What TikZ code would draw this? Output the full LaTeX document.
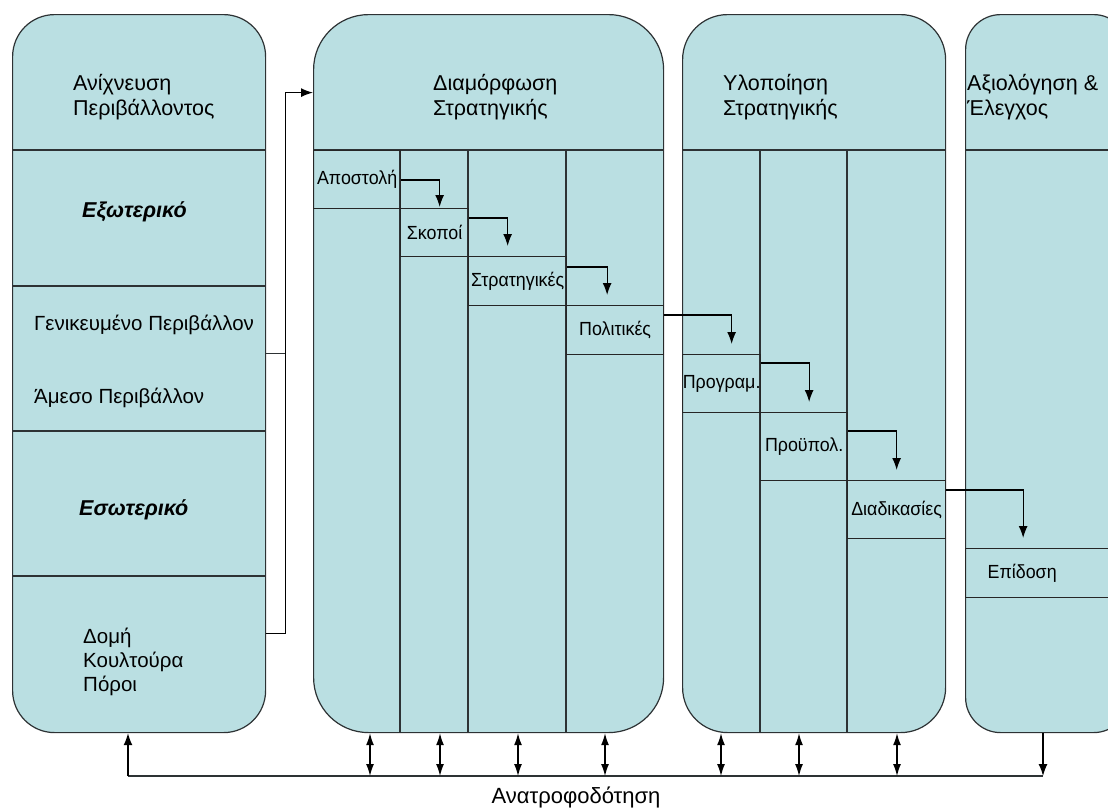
\documentclass[tikz,border=0pt]{standalone}
\usepackage{fontspec}
\setmainfont{Liberation Sans}
\newfontfamily\cellfont[FakeStretch=0.94]{Liberation Sans}
\usepackage{xcolor}
\usetikzlibrary{positioning, arrows.meta}
\definecolor{panelfill}{RGB}{186,223,226}
\definecolor{edgegray}{RGB}{45,50,52}

\begin{document}
\begin{tikzpicture}[
    x=1pt, y=-1pt,
    every node/.style={font=\cellfont\fontsize{19}{21}\selectfont},
    panel/.style={draw=edgegray, fill=panelfill, line width=1.2pt, inner sep=0pt, anchor=north west, minimum height=718pt},
    cell/.style={draw=black!85, line width=1.3pt, inner sep=0pt, anchor=north west},
    head/.style={align=left, anchor=west, inner sep=0pt, font=\fontsize{21.5}{25}\selectfont},
    side/.style={align=left, anchor=west, inner sep=0pt, font=\fontsize{20.5}{24}\selectfont},
    part/.style={anchor=west, inner sep=0pt, font=\fontsize{21.5}{24}\selectfont\bfseries\itshape},
    rule/.style={draw=edgegray, line width=1.3pt},
    flow/.style={-{Latex[length=12pt,width=9pt]}, draw=black, line width=1.3pt, shorten >=10pt},
    both/.style={{Latex[length=12pt,width=8pt]}-{Latex[length=12pt,width=8pt]}, draw=black, line width=1.3pt}
]
\useasboundingbox (0,0) rectangle (1108,809);
\clip (0,0) rectangle (1108,809);

% the four phases
\node[panel, rounded corners=42pt, minimum width=253pt] (scan) at (12,14) {};
\node[panel, rounded corners=55pt, minimum width=350pt] (form) at (313,14) {};
\node[panel, rounded corners=45pt, minimum width=263pt] (impl) at (682,14) {};
\node[panel, rounded corners=35pt, minimum width=163pt] (eval) at (965,14) {};

% dividers
\foreach \y in {150,286,431,576}
    \draw[rule] (scan.west |- 0,\y) -- (scan.east |- 0,\y);
\draw[rule] (form.west |- 0,150) -- (form.east |- 0,150);
\draw[rule] (impl.west |- 0,150) -- (impl.east |- 0,150);
\draw[rule] (eval.west |- 0,150) -- (eval.east |- 0,150);
\foreach \x in {400,468,566}
    \draw[rule] (\x,150) -- (\x,0 |- form.south);
\foreach \x in {760,847}
    \draw[rule] (\x,150) -- (\x,0 |- impl.south);

% titles
\node[head] (scantitle) at (73,97) {Ανίχνευση\\Περιβάλλοντος};
\node[head] (formtitle) at (433,97) {Διαμόρφωση\\Στρατηγικής};
\node[head] (impltitle) at (723,97) {Υλοποίηση\\Στρατηγικής};
\node[head] (evaltitle) at (967,97) {Αξιολόγηση \&\\Έλεγχος};

% environment scanning
\node[part] (ext) at (82,212) {Εξωτερικό};
\node[side] (general) at (34,325) {Γενικευμένο Περιβάλλον};
\node[side] (direct) at (34,398) {Άμεσο Περιβάλλον};
\node[part] (int) at (79,510) {Εσωτερικό};
\node[side] (inside) at (83,662) {Δομή\\Κουλτούρα\\Πόροι};

% steps
\node[cell, minimum width=87pt, minimum height=58pt] (apost) at (313,150) {Αποστολή};
\node[cell, minimum width=68pt, minimum height=48pt] (skopoi) at (400,208) {Σκοποί};
\node[cell, minimum width=98pt, minimum height=49pt] (strat) at (468,256) {Στρατηγικές};
\node[cell, minimum width=97pt, minimum height=49pt] (polit) at (566,305) {Πολιτικές};
\node[cell, minimum width=78pt, minimum height=58pt] (progr) at (682,354) {Προγραμ.};
\node[cell, minimum width=87pt, minimum height=68pt] (proyp) at (760,412) {Προϋπολ.};
\node[cell, minimum width=98pt, minimum height=58pt] (diad) at (847,480) {Διαδικασίες};
\node[cell, minimum height=49pt, inner xsep=22pt, text width=119pt, align=left] (epid) at (965,548) {Επίδοση};

\draw[flow, shorten >=1pt] ([yshift=-30pt]apost.north east) -| ([xshift=5pt]skopoi.north);
\draw[flow] ([yshift=-10pt]skopoi.north east) -| ([xshift=-10pt]strat.north);
\draw[flow] ([yshift=-11pt]strat.north east) -| ([xshift=-8pt]polit.north);
\draw[flow] ([yshift=-10pt]polit.north east) -| ([xshift=10pt]progr.north);
\draw[flow] ([yshift=-9pt]progr.north east) -| ([xshift=5pt]proyp.north);
\draw[flow] ([yshift=-19pt]proyp.north east) -| (diad.north);
\draw[flow] ([yshift=-10pt]diad.north east) -| ([xshift=-24pt]epid.north);

% scanning feeds formulation
\draw[rule] ([yshift=20pt]scan.east) -- ++(19,0);
\draw[flow, shorten >=0pt] ([yshift=-260pt]scan.east) -- ++(19,0) |- ([yshift=281pt]form.west);

% feedback
\coordinate (fbleft) at (128,776);
\coordinate (fbright) at (1043,776);
\draw[rule] (fbleft) -- (fbright);
\draw[flow, shorten >=0pt] (fbleft) -- (fbleft |- scan.south);
\draw[flow, shorten >=0pt] (fbright |- eval.south) -- (fbright);
\foreach \x in {370,440,518,605,721,799,897}
    \draw[both] (\x,0 |- fbleft) -- (\x,0 |- form.south);
\node[font=\fontsize{22}{26}\selectfont] (fblabel) at (576,797) {Ανατροφοδότηση};
\end{tikzpicture}
\end{document}
